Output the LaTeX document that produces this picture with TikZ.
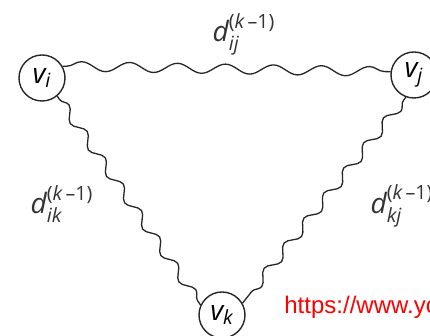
\documentclass[tikz,border=0pt]{standalone}
\usepackage{amsmath}
\usepackage{fontspec}
\setmainfont{Open Sans}
\newfontfamily\urlfont{Liberation Sans}
\usetikzlibrary{decorations.pathmorphing}

\newcommand{\dlab}[1]{$\textit{d}_{\textit{#1}}^{\text{(\itshape k\,\upshape–1)}}$}

\begin{document}
\begin{tikzpicture}[
      x=0.5pt, y=-0.5pt,
      vert/.style={draw=black!85, circle, line width=0.7pt, minimum size=23pt,
                   inner sep=0pt, font=\fontsize{14}{16}\selectfont},
      wavy/.style={draw=black!85, line width=0.65pt, decorate,
                   decoration={snake, amplitude=2.4pt, segment length=#1,
                               pre length=2pt, post length=2pt}},
      wavy/.default=24pt,
      lab/.style={text=black!80, font=\fontsize{14}{16}\selectfont}
    ]
    \useasboundingbox (0,0) rectangle (430,336);

    \node[vert] (vi) at (42,78)  {$\textit{v}_{\textit{i}}$};
    \node[vert] (vj) at (414,75) {$\textit{v}_{\textit{j}}$};
    \node[vert] (vk) at (222,315) {$\textit{v}_{\textit{k}}$};

    \draw[wavy] (vi.30)   -- (vj.172);
    \draw[wavy=16pt] (vi.-50)  -- (vk.155);
    \draw[wavy=16pt] (vj.-110) -- (vk.30);

    \node[lab] (dij) at (244,34)  {\dlab{ij}};
    \node[lab] (dik) at (62,204)  {\dlab{ik}};
    \node[lab] (dkj) at (402,206) {\dlab{kj}};

    \node[anchor=base west, text=red, font=\urlfont\fontsize{12}{14}\selectfont,
          inner sep=0pt] (url) at (284,314) {https://www.yo};
  \end{tikzpicture}
\end{document}
